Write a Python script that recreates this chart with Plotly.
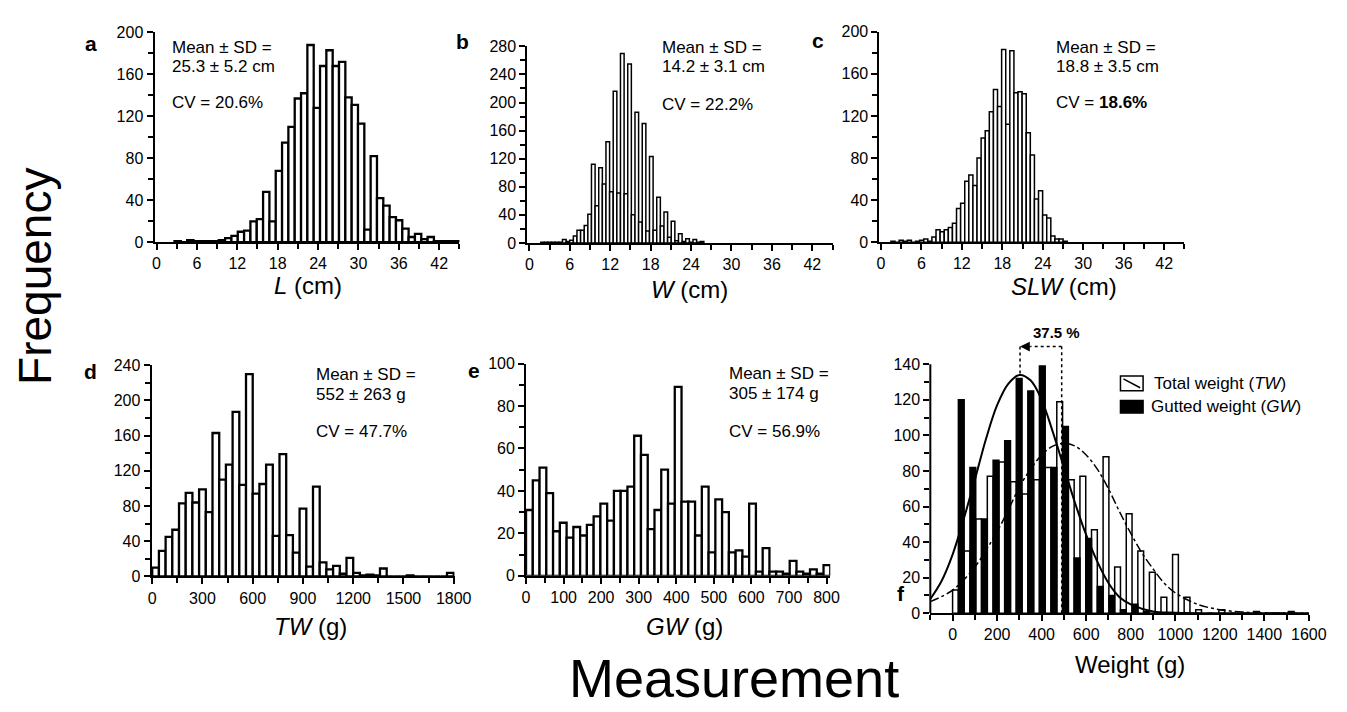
import plotly.graph_objects as go

FIG_W, FIG_H = 1347, 712
FONT = "Liberation Sans, Arial, sans-serif"

# ------------------------- data -------------------------
# a: body length L (cm)
L_counts = [1, 0, 2, 1, 1, 1, 1, 2, 4, 6, 10, 11, 20, 22, 48, 20, 68, 95, 110, 137,
            142, 188, 128, 168, 183, 168, 172, 138, 131, 113, 12, 82, 42, 35, 24, 21,
            13, 5, 8, 3, 5, 1, 1, 1, 1]
L_bin_start, L_bin_width = 2.67, 0.94

# b: body width W (cm)
W_counts = [1, 1, 1, 1, 1, 1, 5, 2, 4, 10, 18, 18, 25, 41, 112, 53, 107, 84, 144, 73,
            216, 71, 270, 70, 255, 40, 186, 30, 170, 17, 123, 18, 65, 24, 44, 8, 31,
            3, 13, 2, 6, 1, 5, 1, 2]
W_bin_start, W_bin_width = 1.69, 0.538

# c: SLW (cm)
SLW_counts = [1, 0, 2, 1, 2, 0, 1, 2, 3, 1, 5, 12, 10, 12, 14, 18, 32, 37, 58, 64,
              54, 80, 99, 106, 124, 145, 129, 183, 112, 182, 142, 143, 141, 104, 83,
              41, 49, 26, 23, 6, 3, 3, 1]
SLW_bin_start, SLW_bin_width = 1.48, 0.608

# d: total weight TW (g)
TW_counts = [10, 29, 45, 53, 83, 95, 84, 99, 73, 163, 110, 127, 187, 104, 230, 94, 105,
             127, 46, 139, 47, 27, 77, 11, 102, 16, 8, 12, 3, 21, 4, 1, 2, 1, 9, 0, 0,
             0, 1, 0, 0, 0, 0, 0, 4]
TW_bin_start, TW_bin_width = 0, 40

# e: gutted weight GW (g)
GW_counts = [31, 45, 51, 39, 21, 25, 18, 23, 19, 24, 28, 34, 26, 40, 40, 42, 66, 57, 22,
             31, 50, 34, 89, 35, 35, 19, 42, 11, 36, 30, 11, 12, 9, 34, 2, 13, 2, 2, 1,
             7, 2, 1, 3, 1, 5]
GW_bin_start, GW_bin_width = 0, 18

# f: TW vs GW paired histogram
F_bin_start, F_bin_width = 0, 52
F_TW_counts = [13, 35, 53, 77, 85, 74, 67, 75, 82, 119, 75, 77, 47, 88, 26, 56, 35, 23,
               9, 33, 9, 2, 0, 2, 0, 0, 1, 0, 0, 1]
F_GW_counts = [120, 82, 53, 86, 97, 132, 125, 139, 82, 105, 31, 42, 15, 10, 2, 5, 1]

# fitted curves
GW_fit_x = [-100, -50, 0, 50, 100, 150, 200, 250, 300, 350, 400, 450, 500, 550, 600,
            650, 700, 750, 800, 900, 1000, 1200, 1600]
GW_fit_y = [8, 18, 33, 53, 75, 98, 117, 129, 134, 131, 120, 102, 82, 62, 44, 29, 17,
            9, 5, 1, 0.3, 0, 0]
TW_fit_x = [-100, 0, 100, 200, 250, 300, 350, 400, 450, 500, 550, 600, 650, 700, 750,
            800, 850, 900, 950, 1000, 1100, 1200, 1300, 1400, 1600]
TW_fit_y = [6.5, 13, 26, 46, 58, 71, 81, 89, 94, 95.5, 94, 89, 81, 70, 57, 45, 34, 25,
            17, 11.5, 5, 2, 0.7, 0.2, 0]

# shift arrow (means of fitted curves)
TW_peak_x, GW_peak_x, arrow_y, GW_peak_y = 490, 303, 150, 134
shift_label = "37.5 %"

# text blocks
stats = {
    "a": ["Mean ± SD =", "25.3 ± 5.2 cm", "CV = 20.6%"],
    "b": ["Mean ± SD =", "14.2 ± 3.1 cm", "CV = 22.2%"],
    "c": ["Mean ± SD =", "18.8 ± 3.5 cm", "CV = <b>18.6%</b>"],
    "d": ["Mean ± SD =", "552 ± 263 g", "CV = 47.7%"],
    "e": ["Mean ± SD =", "305 ± 174 g", "CV = 56.9%"],
}
x_titles = {
    "a": "<i>L</i> (cm)", "b": "<i>W</i> (cm)", "c": "<i>SLW</i> (cm)",
    "d": "<i>TW</i> (g)", "e": "<i>GW</i> (g)", "f": "Weight (g)",
}
legend_labels = ["Total weight (<i>TW</i>)", "Gutted weight (<i>GW</i>)"]
f_yticks = [0, 20, 40, 60, 80, 100, 120, 140]
f_yminor = [10, 30, 50, 70, 90, 110, 130]

# ------------------------- helpers -------------------------
def fx(p):
    return p / FIG_W


def fy(p):
    return 1 - p / FIG_H


def centers(start, width, n):
    return [start + (i + 0.5) * width for i in range(n)]


def hist_trace(counts, start, width, ax, lw=2, color="white"):
    return go.Bar(
        x=centers(start, width, len(counts)), y=counts, width=width,
        marker=dict(color=color, line=dict(color="black", width=lw)),
        xaxis="x" + ax, yaxis="y" + ax, hoverinfo="x+y",
    )


def axis(domain, rng, dtick, mdtick, anchor, **kw):
    d = dict(
        domain=domain, range=rng, anchor=anchor, showline=True, linecolor="black",
        linewidth=2, ticks="outside", ticklen=6, tickwidth=2, tickcolor="black",
        tick0=0, dtick=dtick,
        minor=dict(dtick=mdtick, tick0=0, ticks="outside", ticklen=5, tickwidth=2,
                   tickcolor="black", showgrid=False),
        showgrid=False, zeroline=False, fixedrange=True,
        tickfont=dict(size=16, color="black", family=FONT),
    )
    d.update(kw)
    return d


fig = go.Figure()
fig.add_trace(hist_trace(L_counts, L_bin_start, L_bin_width, "", lw=2.3))
fig.add_trace(hist_trace(W_counts, W_bin_start, W_bin_width, "2", lw=1.5))
fig.add_trace(hist_trace(SLW_counts, SLW_bin_start, SLW_bin_width, "3", lw=1.5))
fig.add_trace(hist_trace(TW_counts, TW_bin_start, TW_bin_width, "4", lw=2.3))
fig.add_trace(hist_trace(GW_counts, GW_bin_start, GW_bin_width, "5", lw=2.3))

half = F_bin_width / 2
fig.add_trace(go.Bar(
    x=[F_bin_start + i * F_bin_width for i in range(len(F_TW_counts))], y=F_TW_counts,
    width=half, offset=0, marker=dict(color="white", line=dict(color="black", width=1.5)),
    xaxis="x6", yaxis="y6"))
fig.add_trace(go.Bar(
    x=[F_bin_start + i * F_bin_width for i in range(len(F_GW_counts))], y=F_GW_counts,
    width=half, offset=half, marker=dict(color="black", line=dict(color="black", width=1.5)),
    xaxis="x6", yaxis="y6"))
fig.add_trace(go.Scatter(x=TW_fit_x, y=TW_fit_y, mode="lines",
                         line=dict(color="black", width=1.5, dash="dashdot", shape="spline"),
                         xaxis="x6", yaxis="y6"))
fig.add_trace(go.Scatter(x=GW_fit_x, y=GW_fit_y, mode="lines",
                         line=dict(color="black", width=2, shape="spline"),
                         xaxis="x6", yaxis="y6"))

layout = dict(
    width=FIG_W, height=FIG_H, margin=dict(l=0, r=0, t=0, b=0),
    paper_bgcolor="white", plot_bgcolor="rgba(0,0,0,0)", showlegend=False,
    barmode="overlay", font=dict(family=FONT, color="black", size=16),
)
# top row
layout["xaxis"] = axis([fx(153), fx(463)], [-0.3, 45], 6, 3, "y")
layout["yaxis"] = axis([fy(240), fy(25)], [0, 200], 40, 20, "x")
layout["xaxis2"] = axis([fx(532), fx(843)], [-0.3, 45.1], 6, 3, "y2")
layout["yaxis2"] = axis([fy(240.7), fy(39.3)], [0, 280], 40, 20, "x2")
layout["xaxis3"] = axis([fx(890), fx(1200)], [-0.22, 45], 6, 3, "y3")
layout["yaxis3"] = axis([fy(240), fy(24.3)], [0, 200], 40, 20, "x3")
# bottom row
layout["xaxis4"] = axis([fx(150), fx(458)], [-4, 1805], 300, 150, "y4")
layout["yaxis4"] = axis([fy(582.3), fy(366)], [0, 240], 40, 20, "x4")
layout["xaxis5"] = axis([fx(530.7), fx(840)], [0, 810], 100, 50, "y5")
layout["yaxis5"] = axis([fy(581.7), fy(364.3)], [0, 100], 20, 10, "x5")
layout["xaxis6"] = axis([fx(941.7), fx(1326.5)], [-100, 1600], 200, 100, "y6")
layout["yaxis6"] = axis([fy(620), fy(328.6)], [0, 160], None, None, "x6",
                        showline=False, tickmode="array", tickvals=f_yticks,
                        minor=dict(tickmode="array", tickvals=f_yminor, ticks="outside",
                                   ticklen=5, tickwidth=2, tickcolor="black",
                                   showgrid=False))
fig.update_layout(**layout)

ann = []


def text(xp, yp, s, size=16, xanchor="left", yanchor="middle", angle=0):
    ann.append(dict(x=fx(xp), y=fy(yp), xref="paper", yref="paper", text=s,
                    showarrow=False, xanchor=xanchor, yanchor=yanchor, textangle=angle,
                    borderpad=0, font=dict(size=size, color="black", family=FONT)))


# stats texts
stat_pos = {"a": (170, [40, 60, 97]), "b": (668, [40, 60, 99]), "c": (1068, [40, 60, 97]),
            "d": (316, [375, 396, 434]), "e": (736, [374, 395, 434])}
for k, (xp, ys) in stat_pos.items():
    for line, yp in zip(stats[k], ys):
        text(xp, yp, line, size=17)

# axis titles
title_pos = {"a": (309, 284), "b": (697, 288), "c": (1078, 285), "d": (312, 634),
             "e": (692, 634), "f": (1145, 673)}
for k, (xp, yp) in title_pos.items():
    text(xp, yp, x_titles[k], size=24, xanchor="center")

# panel letters
letter_pos = {"a": (88, 36), "b": (466, 34), "c": (828, 33), "d": (88, 372),
              "e": (478, 371), "f": (912, 600)}
for k, (xp, yp) in letter_pos.items():
    text(xp, yp, "<b>%s</b>" % k, size=21, xanchor="center")

# global labels
text(32, 275, "Frequency", size=46, xanchor="center", angle=-90)
text(742, 686, "Measurement", size=54, xanchor="center")

# shift label
text(1070, 332, "<b>%s</b>" % shift_label, size=15, xanchor="center")

# legend texts
text(1168, 384.5, legend_labels[0], size=17)
text(1165, 408.5, legend_labels[1], size=17)

# arrow head
ann.append(dict(x=GW_peak_x, y=arrow_y, ax=GW_peak_x + 55, ay=arrow_y, xref="x6",
                yref="y6", axref="x6", ayref="y6", text="", showarrow=True,
                arrowhead=2, arrowsize=1.3, arrowwidth=1.5, arrowcolor="black"))
fig.update_layout(annotations=ann)

shapes = []
dot = dict(color="black", width=1.5, dash="dot")
shapes.append(dict(type="line", xref="x6", yref="y6", x0=TW_peak_x, x1=TW_peak_x,
                   y0=0, y1=arrow_y, line=dot))
shapes.append(dict(type="line", xref="x6", yref="y6", x0=TW_peak_x, x1=GW_peak_x + 50,
                   y0=arrow_y, y1=arrow_y, line=dot))
shapes.append(dict(type="line", xref="x6", yref="y6", x0=GW_peak_x, x1=GW_peak_x,
                   y0=arrow_y, y1=GW_peak_y, line=dot))
# y axis line of panel f (only up to 140)
shapes.append(dict(type="line", xref="paper", yref="y6", x0=fx(941.7), x1=fx(941.7),
                   y0=0, y1=f_yticks[-1], line=dict(color="black", width=2)))
# legend symbols
shapes.append(dict(type="rect", xref="paper", yref="paper", x0=fx(1135), x1=fx(1158),
                   y0=fy(392), y1=fy(377), fillcolor="white",
                   line=dict(color="black", width=1.5)))
shapes.append(dict(type="line", xref="paper", yref="paper", x0=fx(1138), x1=fx(1155),
                   y0=fy(380), y1=fy(389), line=dict(color="black", width=1.5)))
shapes.append(dict(type="rect", xref="paper", yref="paper", x0=fx(1135), x1=fx(1158),
                   y0=fy(415), y1=fy(402), fillcolor="black",
                   line=dict(color="black", width=1.5)))
fig.update_layout(shapes=shapes)

fig.write_html("out.html", config={"displayModeBar": False},
               post_script="document.body.style.margin='0';"
                           "document.body.style.overflow='hidden';")
